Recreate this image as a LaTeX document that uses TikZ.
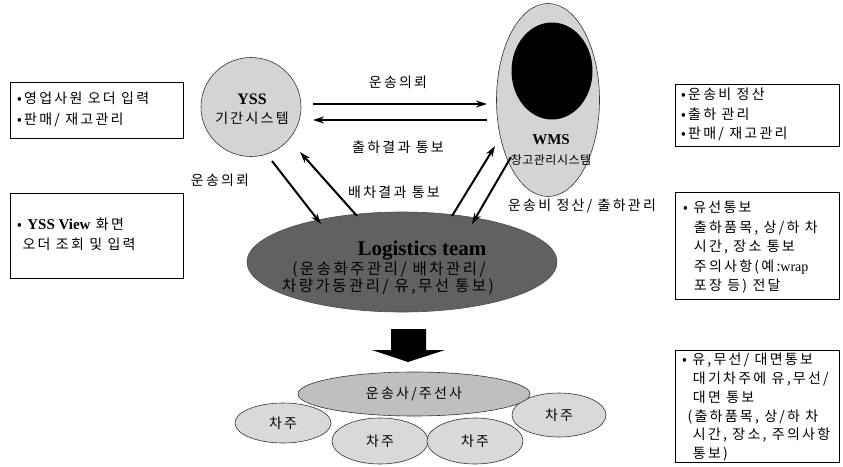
\documentclass[tikz,border=0pt]{standalone}
\usepackage{fontspec}
\setmainfont{Noto Sans CJK KR}[LetterSpace=16]
\newfontfamily\tnr{Liberation Serif}
\usetikzlibrary{shapes.geometric,arrows.meta}
\begin{document}
\begin{tikzpicture}[x=1pt,y=-1pt,
  font=\fontsize{14}{19.5}\selectfont,
  box/.style={draw=black,line width=1pt,inner sep=0,anchor=north west},
  ell/.style={ellipse,draw=black!80,line width=0.6pt,inner sep=0},
  arr/.style={line width=2pt,-{Stealth[length=11pt,width=7pt]}},
  lbl/.style={inner sep=0,anchor=center},
  txt/.style={inner sep=0,anchor=north west,align=left}]
\useasboundingbox[fill=white] (0,0) rectangle (843,466);

% left boxes
\node[box,minimum width=173,minimum height=56] (lb1) at (10,82) {};
\node[txt,font=\fontsize{14}{21}\selectfont] (lb1t) at (17,92) {•영업사원 오더 입력\\•판매/ 재고관리};
\node[box,minimum width=173,minimum height=85] (lb2) at (10,193) {};
\node[txt] (lb2t) at (17,218) {• {\tnr\bfseries\fontsize{15}{19.5}\selectfont YSS View} 화면\\\ 오더 조회 및 입력};

% right boxes
\node[box,minimum width=164,minimum height=62] (rb1) at (675,84) {};
\node[txt] (rb1t) at (681,88) {•운송비 정산\\•출하 관리\\•판매/ 재고관리};
\node[box,minimum width=164,minimum height=107] (rb2) at (675,192) {};
\node[txt] (rb2t) at (683,201) {• 유선통보\\\ \ 출하품목, 상/하 차\\\ \ 시간, 장소 통보\\\ \ 주의사항(예:{\tnr wrap}\\\ \ 포장 등) 전달};
\node[box,minimum width=164,minimum height=112] (rb3) at (675,350) {};
\node[txt,font=\fontsize{14}{18.8}\selectfont] (rb3t) at (682,353) {• 유,무선/ 대면통보\\\ \ 대기차주에 유,무선/\\\ \ 대면 통보\\\ (출하품목, 상/하 차\\\ \ 시간, 장소, 주의사항\\\ \ 통보)};

% YSS
\node[ell,fill=black!17,minimum width=100,minimum height=99] (yss) at (251,107) {};
\node[lbl] (yss1) at (252,99) {\tnr\bfseries\fontsize{16}{18}\selectfont YSS};
\node[lbl] (yss2) at (252,118) {기간시스템};

% WMS
\node[ell,fill=black!17,minimum width=103,minimum height=193] (wms) at (548,100) {};
\node[ellipse,fill=black,inner sep=0,minimum width=81,minimum height=97] (wmsin) at (552,71) {};
\node[lbl] (wms1) at (551,140) {\tnr\bfseries\fontsize{15}{18}\selectfont WMS};
\node[lbl] (wms2) at (551,160) {\fontspec{Noto Sans CJK KR}[LetterSpace=4]\fontsize{12}{14}\selectfont 창고관리시스템};

% Logistics team
\node[ell,fill=black!62,draw=black!70,minimum width=310,minimum height=100] (log) at (402,262) {};
\node[lbl] (logt1) at (422,251) {\tnr\bfseries\fontsize{21}{22}\selectfont Logistics team};
\node[lbl] (logt2) at (389,270) {\fontsize{15.5}{17}\selectfont (운송화주관리/ 배차관리/};
\node[lbl] (logt3) at (388,287) {\fontsize{15.5}{17}\selectfont 차량가동관리/ 유,무선 통보)};

% horizontal arrows
\coordinate (h1s) at (313,104); \coordinate (h1e) at (487,104);
\coordinate (h2s) at (487,120); \coordinate (h2e) at (313,120);
\draw[arr] (h1s) -- (h1e);
\draw[arr] (h2s) -- (h2e);
\node[lbl] (l1) at (398,82) {운송의뢰};
\node[lbl] (l2) at (398,147) {출하결과 통보};

% diagonal arrows
\coordinate (d1s) at (272,161); \coordinate (d1e) at (321,224);
\coordinate (d2s) at (357,216); \coordinate (d2e) at (300,152);
\coordinate (d3s) at (452,216); \coordinate (d3e) at (495,146);
\coordinate (d4s) at (511,157); \coordinate (d4e) at (472,224);
\draw[arr] (d1s) -- (d1e);
\draw[arr] (d2s) -- (d2e);
\draw[arr] (d3s) -- (d3e);
\draw[arr] (d4s) -- (d4e);
\node[lbl] (l3) at (220,180) {운송의뢰};
\node[lbl] (l4) at (394,192) {배차결과 통보};
\node[lbl] (l5) at (582,206) {운송비 정산/ 출하관리};

% big down arrow
\fill[black] (391,329) -- (426,329) -- (426,350) -- (445,350) -- (408,362) -- (372,350) -- (391,350) -- cycle;

% carriers
\node[ell,fill=black!15,minimum width=96,minimum height=40] (c1) at (283,423) {차주};
\node[ell,fill=black!15,minimum width=96,minimum height=46] (c2) at (380,441) {차주};
\node[ell,fill=black!15,minimum width=96,minimum height=46] (c3) at (475,441) {차주};
\node[ell,fill=black!15,minimum width=94,minimum height=44] (c4) at (559,415) {차주};
\node[ell,fill=black!25,minimum width=232,minimum height=44] (fw) at (414,394) {운송사/주선사};
\end{tikzpicture}
\end{document}
